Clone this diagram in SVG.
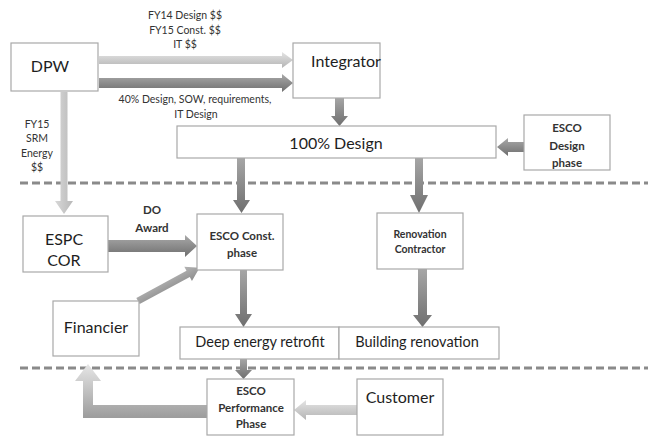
<svg xmlns="http://www.w3.org/2000/svg" width="648" height="436" viewBox="0 0 648 436">
<defs>
<linearGradient id="gDarkH" x1="0" y1="0" x2="0" y2="1"><stop offset="0" stop-color="#a9a9a9"/><stop offset="0.5" stop-color="#8c8c8c"/><stop offset="1" stop-color="#6e6e6e"/></linearGradient>
<linearGradient id="gDarkV" x1="0" y1="0" x2="0" y2="1"><stop offset="0" stop-color="#a6a6a6"/><stop offset="1" stop-color="#6f6f6f"/></linearGradient>
<linearGradient id="gLightH" x1="0" y1="0" x2="0" y2="1"><stop offset="0" stop-color="#e4e4e4"/><stop offset="1" stop-color="#b4b4b4"/></linearGradient>
<linearGradient id="gLightV" x1="0" y1="0" x2="1" y2="0"><stop offset="0" stop-color="#d8d8d8"/><stop offset="1" stop-color="#b8b8b8"/></linearGradient>
<linearGradient id="gMid" x1="0" y1="0" x2="0" y2="1"><stop offset="0" stop-color="#b4b4b4"/><stop offset="1" stop-color="#8e8e8e"/></linearGradient>
<linearGradient id="gL" x1="0" y1="0" x2="0" y2="1"><stop offset="0" stop-color="#e6e6e6"/><stop offset="1" stop-color="#9c9c9c"/></linearGradient>
</defs>
<style>
.box{fill:#ffffff;stroke:#a8a8a8;stroke-width:1.2}
.t{font-family:Lato,"Liberation Sans",sans-serif;fill:#1e1e1e;text-anchor:middle}
.big{font-size:16px}
.mid{font-size:14.5px}
.sm{font-size:11.5px;font-weight:bold;fill:#333}
.xs{font-size:10.5px;fill:#333}
.dash{stroke:#8a8a8a;stroke-width:3;stroke-dasharray:8 4;fill:none}
</style>
<g id="separators">
<line class="dash" x1="20" y1="183" x2="648" y2="183"/>
<line class="dash" x1="20" y1="368" x2="648" y2="368"/>
</g>
<g id="connectors">
<polygon points="99,56 282,56 282,52 293,60 282,68 282,64 99,64" fill="url(#gLightH)"/>
<polygon points="99,78 282,78 282,74 293,83 282,92 282,88 99,88" fill="url(#gDarkH)"/>
<polygon points="335,98 344,98 344,116 348,116 339.5,126 331,116 335,116" fill="url(#gDarkV)"/>
<polygon points="524,142 508,142 508,138 497,147 508,156 508,152 524,152" fill="url(#gDarkH)"/>
<polygon points="60.5,92 67.5,92 67.5,201 73,201 64,214 55,201 60.5,201" fill="url(#gLightV)"/>
<polygon points="237,158 245,158 245,200 250,200 241.5,213 233,200 237,200" fill="url(#gDarkV)"/>
<polygon points="415,158 423,158 423,195 428,195 419,213 410,195 415,195" fill="url(#gDarkV)"/>
<polygon points="108,240 185,240 185,235 197,246 185,257 185,252 108,252" fill="url(#gDarkH)"/>
<polygon points="0,-3.5 57,-3.5 57,-8 70,0 57,8 57,3.5 0,3.5" fill="url(#gMid)" transform="translate(138,301) rotate(-28.4)"/>
<polygon points="240,270 247,270 247,314 252,314 243.5,327 235,314 240,314" fill="url(#gDarkV)"/>
<polygon points="418,269 427,269 427,315 432,315 422.5,327 413,315 418,315" fill="url(#gDarkV)"/>
<polygon points="240,359 247,359 247,370 252,370 243.5,379 235,370 240,370" fill="url(#gDarkV)"/>
<polygon points="357,405 306,405 306,400 294,410 306,420 306,415 357,415" fill="url(#gLightH)"/>
<path d="M207,405 L93,405 L93,381 L101,381 L88,364 L75,381 L83,381 L83,418 L207,418 Z" fill="url(#gL)"/>
</g>
<g id="labels">
<text class="t xs" x="185" y="19">FY14 Design $$</text>
<text class="t xs" x="185" y="34">FY15 Const. $$</text>
<text class="t xs" x="185" y="48">IT $$</text>
<text class="t xs" x="195" y="103">40% Design, SOW, requirements,</text>
<text class="t xs" x="196" y="118">IT Design</text>
<text class="t xs" x="37" y="128">FY15</text>
<text class="t xs" x="37" y="142">SRM</text>
<text class="t xs" x="37" y="157">Energy</text>
<text class="t xs" x="37" y="171">$$</text>
<text class="t sm" x="152" y="214">DO</text>
<text class="t sm" x="152" y="232">Award</text>
</g>
<g id="dpw"><rect class="box" x="11" y="43" width="87" height="48"/><text class="t big" x="50" y="72">DPW</text></g>
<g id="integrator"><rect class="box" x="293" y="43" width="87" height="55"/><text class="t big" x="346" y="67">Integrator</text></g>
<g id="design100"><rect class="box" x="177" y="126" width="319" height="32"/><text class="t big" x="336" y="149">100% Design</text></g>
<g id="esco-design"><rect class="box" x="524" y="115" width="86" height="55"/><text class="t sm" x="567" y="132">ESCO</text><text class="t sm" x="567" y="150">Design</text><text class="t sm" x="567" y="167">phase</text></g>
<g id="espc-cor"><rect class="box" x="23" y="216" width="85" height="56"/><text class="t big" x="64" y="245">ESPC</text><text class="t big" x="64" y="266">COR</text></g>
<g id="esco-const"><rect class="box" x="197" y="214" width="86" height="56"/><text class="t sm" x="242" y="240">ESCO Const.</text><text class="t sm" x="242" y="257">phase</text></g>
<g id="renovation-contractor"><rect class="box" x="377" y="213" width="86" height="56"/><text class="t xs" x="420" y="238" style="font-weight:bold">Renovation</text><text class="t xs" x="420" y="253" style="font-weight:bold">Contractor</text></g>
<g id="financier"><rect class="box" x="53" y="301" width="86" height="55"/><text class="t big" x="96" y="333">Financier</text></g>
<g id="deep-retrofit"><rect class="box" x="180" y="327" width="159" height="32"/><text class="t mid" x="260" y="347">Deep energy  retrofit</text></g>
<g id="building-renovation"><rect class="box" x="339" y="327" width="160" height="32"/><text class="t mid" x="417" y="347">Building renovation</text></g>
<g id="esco-performance"><rect class="box" x="207" y="379" width="87" height="56"/><text class="t sm" x="251" y="395">ESCO</text><text class="t sm" x="251" y="412">Performance</text><text class="t sm" x="251" y="428">Phase</text></g>
<g id="customer"><rect class="box" x="357" y="379" width="86" height="56"/><text class="t big" x="400" y="403">Customer</text></g>
</svg>
